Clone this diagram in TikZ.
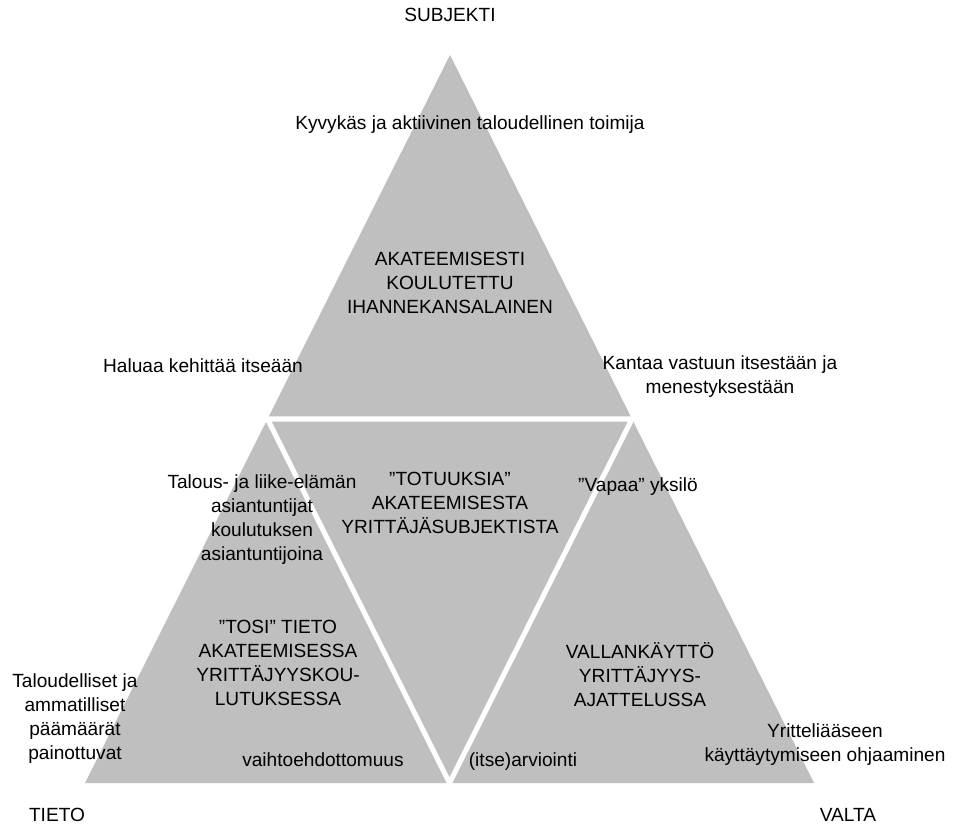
\documentclass[tikz,border=0pt]{standalone}
\usepackage{fontspec}
\setmainfont{Liberation Sans}
\usepackage{tikz}
\usetikzlibrary{calc,positioning}

\definecolor{trigrey}{RGB}{191,191,191}
\tikzset{
    lbl/.style={align=center, inner sep=0pt, font=\fontsize{16.3}{20.5}\selectfont},
    gap/.style={draw=white, line width=4.3pt, line join=miter}
}

\begin{document}
\begin{tikzpicture}[x=0.03cm, y=-0.03cm]
    \useasboundingbox (0,0) rectangle (954,827);
    \coordinate (top) at (450,55);
    \coordinate (bl) at (85,783);
    \coordinate (br) at (814,783);
    \coordinate (ml) at ($(top)!0.5!(bl)$);
    \coordinate (mr) at ($(top)!0.5!(br)$);
    \coordinate (mb) at ($(bl)!0.5!(br)$);
    \fill[trigrey] (top) -- (bl) -- (br) -- cycle;
    \draw[gap] (ml) -- (mr) -- (mb) -- cycle;

    % corners
    \node[lbl] (subj) at (450,15) {SUBJEKTI};
    \node[lbl] (tieto) at (57,815) {TIETO};
    \node[lbl] (valta) at (848,815) {VALTA};

    % top triangle
    \node[lbl] (kyvy) at (470,125) {Kyvykäs ja aktiivinen taloudellinen toimija};
    \node[lbl] (ideal) at (450,283) {AKATEEMISESTI\\KOULUTETTU\\IHANNEKANSALAINEN};
    \node[lbl] (kehit) at (203,366) {Haluaa kehittää itseään};
    \node[lbl] (vastuu) at (720,377) {Kantaa vastuun itsestään ja\\menestyksestään};

    % middle triangle
    \node[lbl] (totuus) at (450,503) {”TOTUUKSIA”\\AKATEEMISESTA\\YRITTÄJÄSUBJEKTISTA};
    \node[lbl] (vapaa) at (638,487) {”Vapaa” yksilö};
    \node[lbl] (arvio) at (523,762) {(itse)arviointi};

    % left triangle
    \node[lbl] (asiant) at (262,520) {Talous- ja liike-elämän\\asiantuntijat\\koulutuksen\\asiantuntijoina};
    \node[lbl] (tosi) at (278,663) {”TOSI” TIETO\\AKATEEMISESSA\\YRITTÄJYYSKOU-\\LUTUKSESSA};
    \node[lbl] (paam) at (75,719) {Taloudelliset ja\\ammatilliset\\päämäärät\\painottuvat};
    \node[lbl] (vaiht) at (323,760) {vaihtoehdottomuus};

    % right triangle
    \node[lbl] (vallan) at (640,675) {VALLANKÄYTTÖ\\YRITTÄJYYS-\\AJATTELUSSA};
    \node[lbl] (ohjaus) at (825,745) {Yritteliääseen\\käyttäytymiseen ohjaaminen};
\end{tikzpicture}
\end{document}
